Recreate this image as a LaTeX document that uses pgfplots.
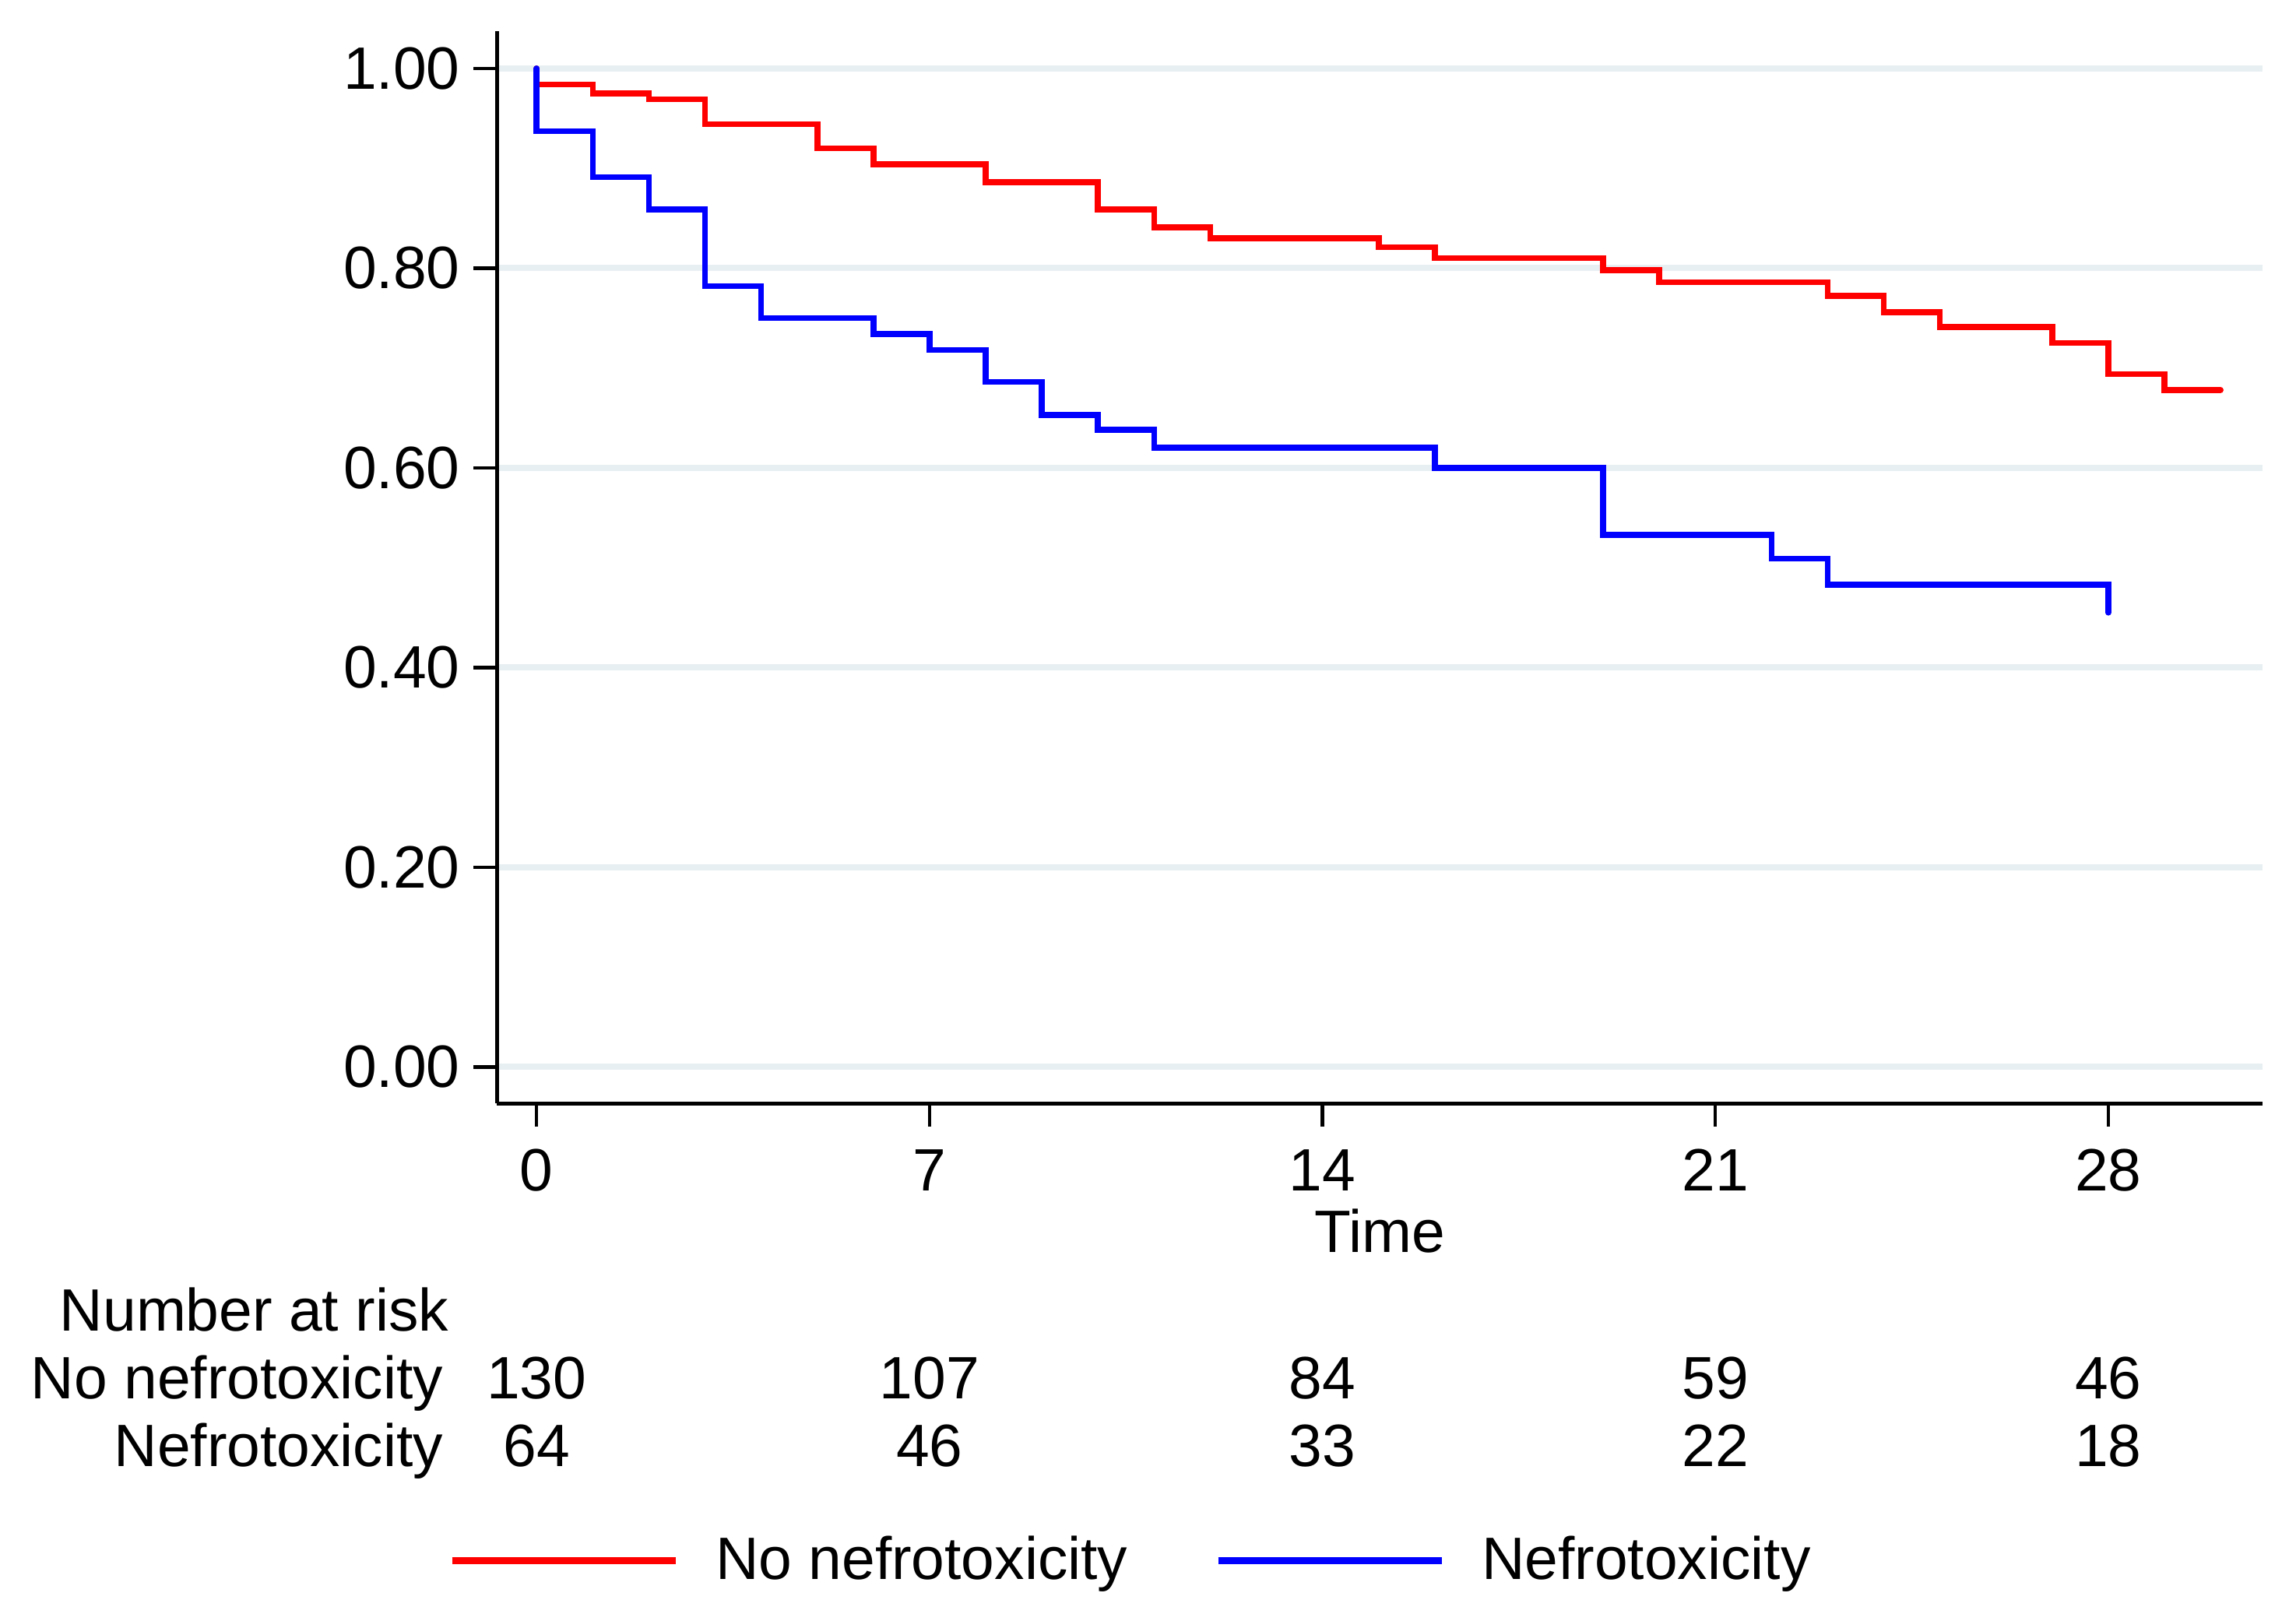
\documentclass[border=0pt]{standalone}
\usepackage{fontspec}
\setmainfont{Liberation Sans}
\usepackage{pgfplots}
\pgfplotsset{compat=1.18}

\definecolor{gridc}{RGB}{232,239,242}
\definecolor{kmred}{RGB}{255,0,0}
\definecolor{kmblue}{RGB}{0,0,255}
\newcommand{\lbl}{\fontsize{19.2}{23}\selectfont}

\begin{document}
\begin{tikzpicture}[x=1pt,y=1pt, risk/.style={font=\lbl, inner sep=0pt}]
\useasboundingbox (0,0) rectangle (737.25,518.25);
\begin{axis}[
    at={(159.575pt,163.95pt)}, anchor=south west,
    scale only axis, width=566.8pt, height=344.25pt,
    xmin=-0.707, xmax=30.74,
    ymin=-0.0365, ymax=1.0372,
    enlargelimits=false,
    clip=false,
    axis lines=left,
    axis line style={-, line width=1.2pt, black},
    tick align=outside,
    major tick length=7.5pt,
    tick style={line width=1.1pt, black},
    xtick={0,7,14,21,28},
    ytick={0,0.2,0.4,0.6,0.8,1},
    /pgf/number format/assume math mode=true,
    ticklabel style={font=\lbl, inner sep=0pt},
    yticklabel style={/pgf/number format/.cd, fixed, fixed zerofill, precision=2, /tikz/.cd, xshift=-4.25pt},
    xticklabel style={yshift=-7.1pt},
    ymajorgrids=true,
    grid style={line width=2pt, gridc},
    xlabel={Time},
    xlabel style={font=\lbl, inner sep=0pt, at={(axis description cs:0.5,0)}, anchor=base, yshift=-47.95pt},
    legend columns=2,
    legend image code/.code={\draw[#1, line cap=butt, line width=2.25pt] (0pt,0pt) -- (71.75pt,0pt);},
    legend style={draw=none, fill=none, font=\lbl, inner sep=0pt,
        at={(axis description cs:-0.0244,-0.4233)}, anchor=west,
        xshift=-1.9pt, yshift=-1pt,
        nodes={inner sep=0pt},
        /tikz/every odd column/.append style={column sep=11.75pt},
        /tikz/every even column/.append style={column sep=27.9pt}},
]
% No nefrotoxicity
\addplot[const plot, kmred, line width=1.9pt, line cap=round] coordinates {
    (0,1) (0,0.984) (1,0.975) (2,0.969) (3,0.944) (5,0.920) (6,0.904)
    (8,0.886) (10,0.859) (11,0.841) (12,0.830) (15,0.821) (16,0.810)
    (19,0.798) (20,0.786) (23,0.772) (24,0.756) (25,0.741) (27,0.725)
    (28,0.694) (29,0.678) (30,0.678)
};
\addlegendentry{No nefrotoxicity}
% Nefrotoxicity
\addplot[const plot, kmblue, line width=1.9pt, line cap=round] coordinates {
    (0,1) (0,0.937) (1,0.891) (2,0.859) (3,0.782) (4,0.750) (6,0.734)
    (7,0.718) (8,0.686) (9,0.653) (10,0.638) (11,0.620) (16,0.600)
    (19,0.533) (22,0.509) (23,0.483) (28,0.483) (28,0.455)
};
\addlegendentry{Nefrotoxicity}

% number at risk table
\node[risk, anchor=base east] at (axis cs:-1.5576,-0.2648) {Number at risk};
\node[risk, anchor=base east] at (axis cs:-1.6547,-0.3326) {No nefrotoxicity};
\node[risk, anchor=base east] at (axis cs:-1.6547,-0.4004) {Nefrotoxicity};
\node[risk, anchor=base] at (axis cs:0,-0.3326) {130};
\node[risk, anchor=base] at (axis cs:7,-0.3326) {107};
\node[risk, anchor=base] at (axis cs:14,-0.3326) {84};
\node[risk, anchor=base] at (axis cs:21,-0.3326) {59};
\node[risk, anchor=base] at (axis cs:28,-0.3326) {46};
\node[risk, anchor=base] at (axis cs:0,-0.4004) {64};
\node[risk, anchor=base] at (axis cs:7,-0.4004) {46};
\node[risk, anchor=base] at (axis cs:14,-0.4004) {33};
\node[risk, anchor=base] at (axis cs:21,-0.4004) {22};
\node[risk, anchor=base] at (axis cs:28,-0.4004) {18};
\end{axis}
\end{tikzpicture}
\end{document}
